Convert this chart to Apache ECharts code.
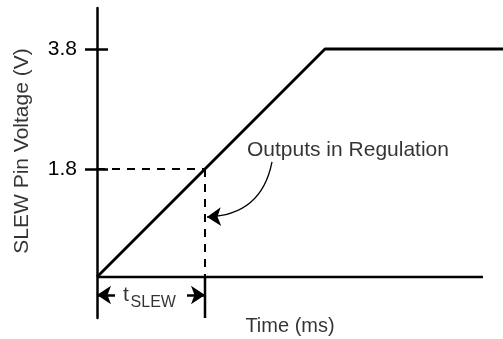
<!DOCTYPE html>
<html>
<head>
<meta charset="utf-8">
<script src="https://cdn.jsdelivr.net/npm/echarts@6/dist/echarts.min.js"></script>
<style>html,body{margin:0;padding:0;background:#fff}#c{width:503px;height:339px}</style>
</head>
<body>
<div id="c"></div>
<script>
// Data (time in arbitrary ms units, voltage in V)
var signalPoints = [[0, 0], [3.8, 3.8], [6.767, 3.8]];
var yTickValues = [1.8, 3.8];
var slewVoltage = 1.8;
var slewTime = 1.8;
var xAxisEnd = 6.433;
var yMin = -0.6833, yMax = 4.4833;
var xMin = 0, xMax = 6.767;
var axisTitleY = 'SLEW Pin Voltage (V)';
var axisTitleX = 'Time (ms)';
var annotationText = 'Outputs in Regulation';

var font = '"Liberation Sans", Arial, Helvetica, sans-serif';
var chart = echarts.init(document.getElementById('c'), null, {renderer: 'canvas'});

function textPoint(x, y, text, extra) {
  var lab = Object.assign({
    show: true, position: 'inside', formatter: text,
    color: '#000', fontFamily: font, fontSize: 21,
    align: 'center', verticalAlign: 'middle'
  }, extra || {});
  return {
    type: 'scatter', symbolSize: 0, clip: false, silent: true,
    data: [[x, y]], label: lab, z: 10
  };
}

var option = {
  animation: false,
  backgroundColor: '#fff',
  grid: {left: 97, right: 0, top: 8, bottom: 21, containLabel: false},
  xAxis: {type: 'value', min: xMin, max: xMax, show: false},
  yAxis: [{
    type: 'value', min: yMin, max: yMax, position: 'left',
    axisLine: {show: true, onZero: false, lineStyle: {color: '#000', width: 2.5}},
    axisTick: {show: true, customValues: yTickValues, length: 12, lineStyle: {color: '#000', width: 2.5}},
    axisLabel: {show: true, customValues: yTickValues, margin: 20, color: '#000', fontSize: 21, fontFamily: font,
      formatter: function (v) { return v.toFixed(1); }},
    splitLine: {show: false}
  }, {
    type: 'value', min: yMin, max: yMax, position: 'left',
    axisLine: {show: false},
    axisTick: {show: true, inside: true, customValues: yTickValues, length: 11, lineStyle: {color: '#000', width: 2.5}},
    axisLabel: {show: false},
    splitLine: {show: false}
  }],
  series: [
    {type: 'line', data: signalPoints, symbol: 'none', clip: false,
      lineStyle: {color: '#000', width: 2.8}, z: 5},
    {type: 'line', data: [[0, 0], [xAxisEnd, 0]], symbol: 'none', clip: false,
      lineStyle: {color: '#000', width: 2.5}},
    {type: 'line', data: [[0, slewVoltage], [slewTime, slewVoltage]], symbol: 'none',
      lineStyle: {color: '#000', width: 2, type: [8, 7]}},
    {type: 'line', data: [[slewTime, slewVoltage], [slewTime, 0]], symbol: 'none',
      lineStyle: {color: '#000', width: 2, type: [8, 7]}},
    {type: 'line', data: [[slewTime, 0], [slewTime, yMin]], symbol: 'none', clip: false,
      lineStyle: {color: '#000', width: 2.5}},
    {type: 'lines', coordinateSystem: 'cartesian2d', symbol: ['none', 'arrow'], symbolSize: 14,
      lineStyle: {color: '#000', width: 2.5, opacity: 1},
      data: [{coords: [[0.3, -0.3], [0, -0.3]]}, {coords: [[1.5, -0.3], [slewTime, -0.3]]}]},
    {type: 'lines', coordinateSystem: 'cartesian2d', symbol: ['none', 'arrow'], symbolSize: 14,
      lineStyle: {color: '#000', width: 1.3, opacity: 1, curveness: 0.4},
      data: [{coords: [[2.917, 1.917], [1.833, 1.0]]}]},
    textPoint(2.5, 2.117, annotationText, {align: 'left'}),
    textPoint(3.217, -0.817, axisTitleX, {fontSize: 20}),
    textPoint(-1.25, 2.1, axisTitleY, {rotate: 90}),
    textPoint(0.433, -0.3, 't', {align: 'left'}),
    textPoint(0.56, -0.425, 'SLEW', {align: 'left', fontSize: 16})
  ]
};
chart.setOption(option);
</script>
</body>
</html>
